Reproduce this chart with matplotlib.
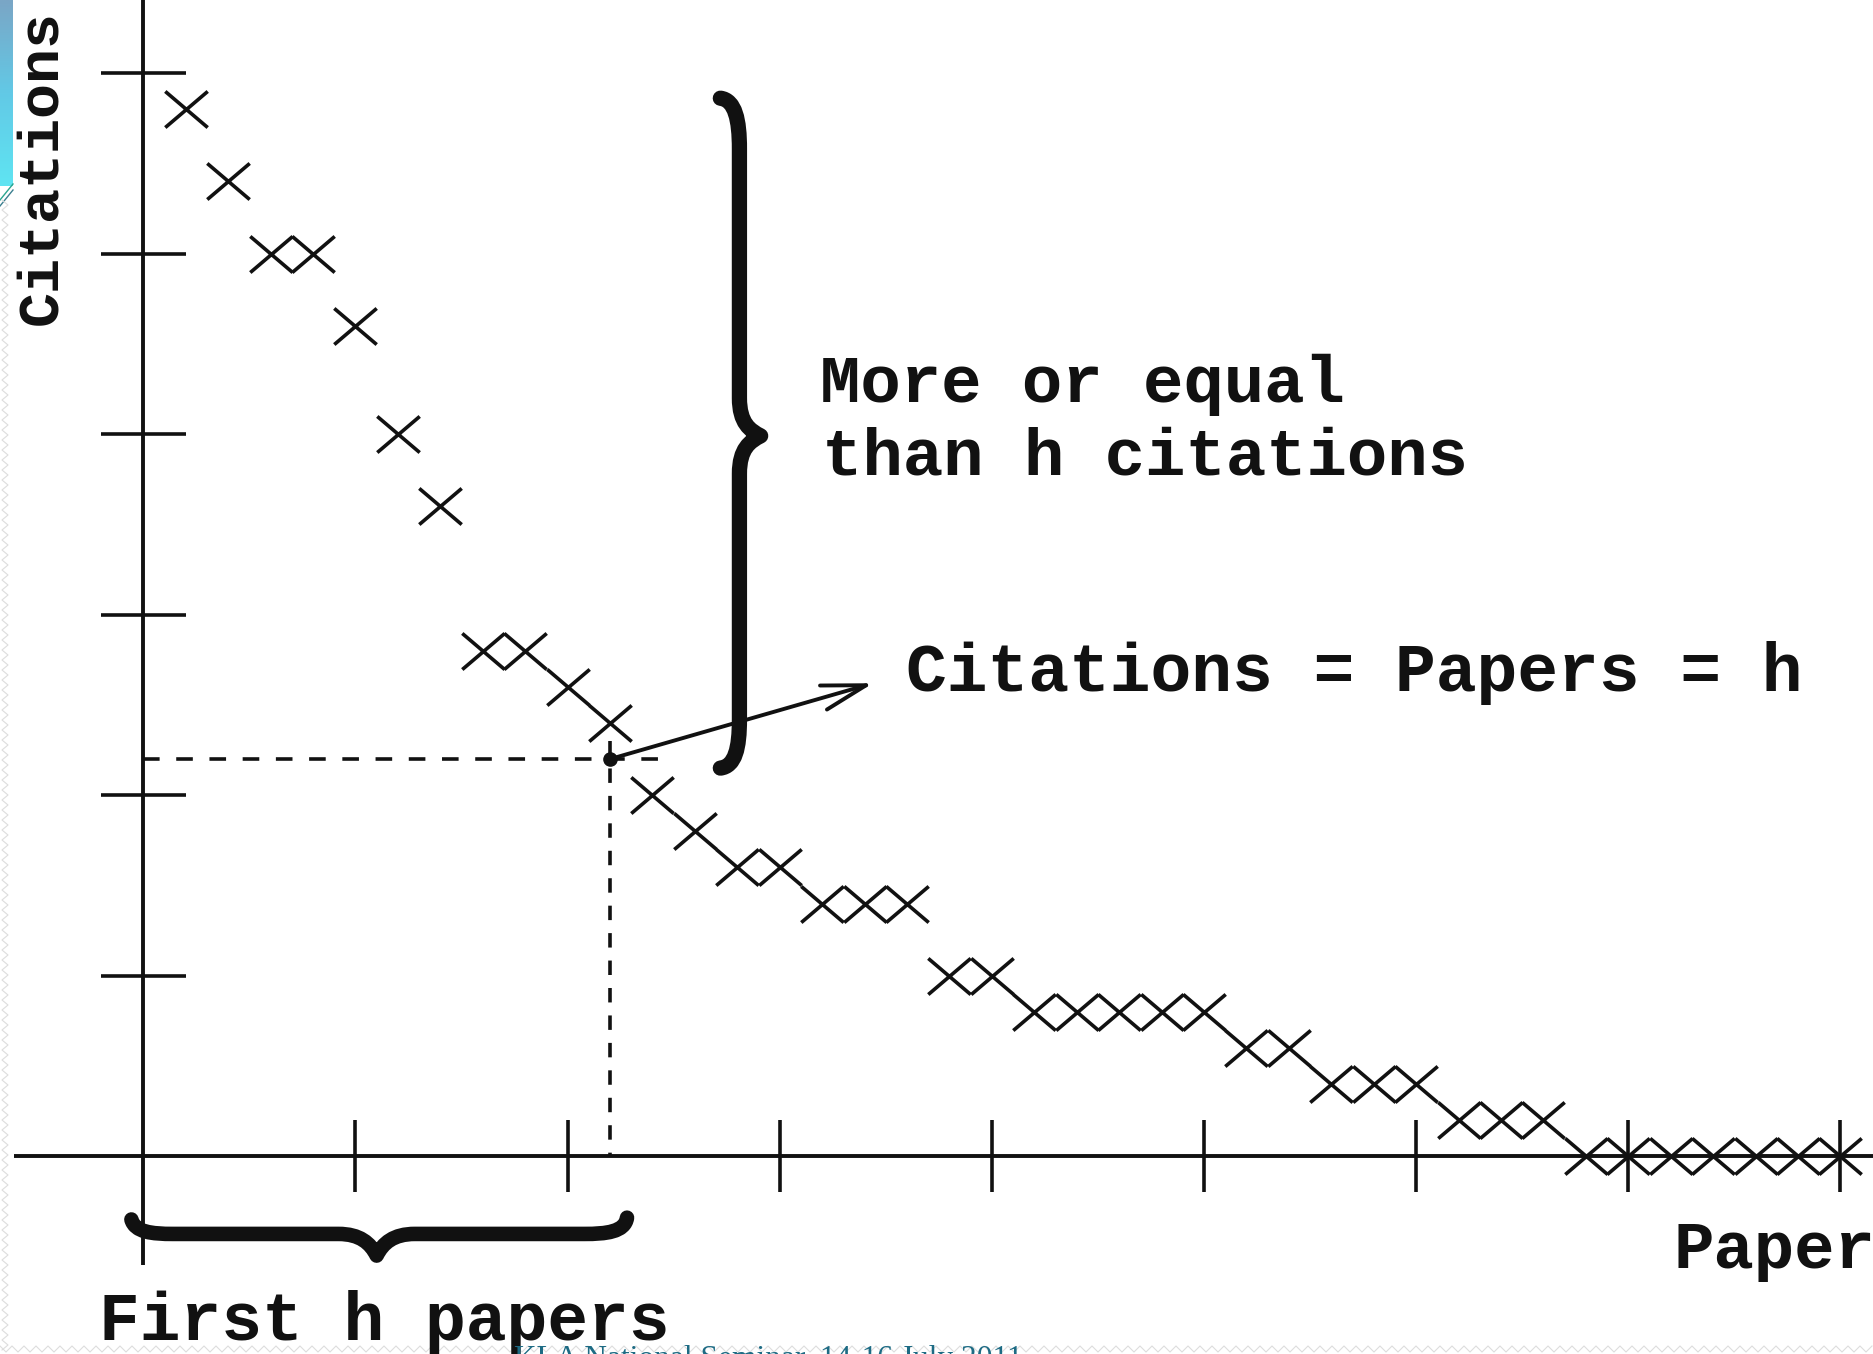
import numpy as np
import matplotlib
matplotlib.use("Agg")
import matplotlib.pyplot as plt
from matplotlib.path import Path
from matplotlib.patches import PathPatch
from matplotlib.lines import Line2D
from matplotlib.colors import LinearSegmentedColormap

# ---------------- data ----------------
papers = list(range(1, 41))
citations = [29, 27, 25, 25, 23, 20, 18, 14, 14, 13, 12, 10, 9, 8, 8, 7, 7, 7,
             5, 5, 4, 4, 4, 4, 4, 3, 3, 2, 2, 2, 1, 1, 1, 0, 0, 0, 0, 0, 0, 0]
h_index = 11
x_ticks = [5, 10, 15, 20, 25, 30, 35, 40]
y_ticks = [5, 10, 15, 20, 25, 30]
ylabel = "Citations"
xlabel = "Papers"
brace_label = "First h papers"
upper_label = ["More or equal", "than h citations"]
arrow_label = "Citations = Papers = h"
footer = "KLA National Seminar, 14-16 July 2011"

# ---------------- figure ----------------
W, H = 1873, 1354
fig = plt.figure(figsize=(W / 100, H / 100), dpi=100)
fig.patch.set_facecolor("white")
ax = fig.add_axes([0, 0, 1, 1])
ax.set_xlim(-3.377, 40.766)
ax.set_ylim(-5.475, 32.02)
ax.axis("off")

INK = "#111111"
MONO = "Liberation Mono"

def fx(px):
    return px / W

def fy(py):
    return 1 - py / H

# axes lines
ax.plot([0, 0], [-3.0, 33], color=INK, lw=2.8, solid_capstyle="butt")
ax.plot([-3.05, 42], [0, 0], color=INK, lw=2.8, solid_capstyle="butt")
ax.hlines(y_ticks, -1, 1, color=INK, lw=2.6)
ax.vlines(x_ticks, -1, 1, color=INK, lw=2.6)

# cross markers (wider than tall, touching neighbours)
cross = Path([(-1, -0.851), (1, 0.851), (-1, 0.851), (1, -0.851)],
             [Path.MOVETO, Path.LINETO, Path.MOVETO, Path.LINETO])
ax.plot(papers, citations, ls="none", marker=cross, ms=30.55, mew=2.6,
        mec=INK, mfc="none")

# dashed h lines
ax.plot([0, 12.4], [h_index, h_index], color=INK, lw=2.6, ls=(0, (4.6, 4.6)))
ax.plot([h_index, h_index], [h_index + 0.5, 0], color=INK, lw=2.6,
        ls=(0, (4.0, 3.6)))
ax.plot([h_index], [h_index], "o", color=INK, ms=9.5)

# arrow
ax.annotate("", xy=(17.2, 13.1), xytext=(h_index, h_index),
            arrowprops=dict(arrowstyle="->,head_length=1.6,head_width=0.45",
                            lw=2.8, color=INK, shrinkA=0, shrinkB=0,
                            mutation_scale=20))

# vertical curly brace
M, L, C = Path.MOVETO, Path.LINETO, Path.CURVE4
vb = Path([(13.6, 29.3),
           (13.95, 29.25), (14.05, 28.7), (14.05, 27.9),
           (14.05, 21.0),
           (14.05, 20.3), (14.3, 20.1), (14.55, 19.95),
           (14.3, 19.8), (14.05, 19.6), (14.05, 18.9),
           (14.05, 12.1),
           (14.05, 11.3), (13.95, 10.8), (13.6, 10.75)],
          [M, C, C, C, L, C, C, C, C, C, C, L, C, C, C])
ax.add_patch(PathPatch(vb, fill=False, lw=11, color=INK,
                       capstyle="round", joinstyle="round"))

# horizontal curly brace
hb = Path([(-0.28, -1.75),
           (-0.2, -2.1), (0.2, -2.15), (0.7, -2.15),
           (4.6, -2.15),
           (5.1, -2.15), (5.35, -2.4), (5.5, -2.75),
           (5.65, -2.4), (5.9, -2.15), (6.4, -2.15),
           (10.4, -2.15),
           (10.9, -2.15), (11.35, -2.1), (11.4, -1.7)],
          [M, C, C, C, L, C, C, C, C, C, C, L, C, C, C])
ax.add_patch(PathPatch(hb, fill=False, lw=10.5, color=INK,
                       capstyle="round", joinstyle="round"))

# texts
tkw = dict(fontfamily=MONO, fontweight="bold", color=INK, va="baseline",
           ha="left")
fig.text(fx(820), fy(402), upper_label[0], fontsize=48.5, **tkw)
fig.text(fx(822), fy(474), upper_label[1], fontsize=48.5, **tkw)
fig.text(fx(906), fy(691), arrow_label, fontsize=49, **tkw)
fig.text(fx(99), fy(1340), brace_label, fontsize=49, **tkw)
fig.text(fx(1673), fy(1268), xlabel, fontsize=48.5, **tkw)
fig.text(fx(56), fy(325), ylabel, fontsize=42, rotation=90,
         rotation_mode="anchor", fontfamily=MONO, fontweight="bold",
         color=INK, va="baseline", ha="left")
fig.text(fx(514), fy(1367), footer, fontsize=22.6, fontfamily="Liberation Serif",
         color="#1d6b84", va="baseline", ha="left")

# slide decoration: gradient block top-left
gax = fig.add_axes([0, fy(186), fx(13), 186 / H])
grad = np.linspace(0, 1, 100).reshape(-1, 1)
cmap = LinearSegmentedColormap.from_list("slide", ["#7aa6c6", "#62c9e6", "#5fe4f2"])
gax.imshow(grad, aspect="auto", cmap=cmap, extent=[0, 1, 0, 1], origin="upper")
gax.axis("off")
fig.lines.append(Line2D([fx(0), fx(13)], [fy(200), fy(184)], color="#2aa58f",
                        lw=1.0, transform=fig.transFigure))
fig.lines.append(Line2D([fx(0), fx(13)], [fy(206), fy(190)], color="#3b7f8f",
                        lw=1.0, transform=fig.transFigure))

# faint zig-zag slide border
zy = np.arange(200, H, 5)
zx = np.where((np.arange(zy.size) % 2) == 0, 2, 8)
fig.lines.append(Line2D(zx / W, 1 - zy / H, color="#dddddd", lw=0.8,
                        transform=fig.transFigure))
bx = np.arange(0, W, 6)
by = np.where((np.arange(bx.size) % 2) == 0, 1346, 1352)
fig.lines.append(Line2D(bx / W, 1 - by / H, color="#dddddd", lw=0.8,
                        transform=fig.transFigure))

fig.savefig("out.png", dpi=100, facecolor="white")
